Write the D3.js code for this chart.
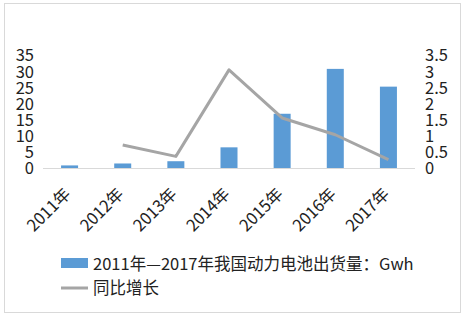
<!DOCTYPE html>
<html>
<head>
<meta charset="utf-8">
<script src="https://cdn.jsdelivr.net/npm/d3@7"></script>
<style>
  html, body { margin: 0; padding: 0; background: #fff; }
  svg { display: block; }
</style>
</head>
<body>
<div id="chart"></div>
<script>
const years = ['2011年', '2012年', '2013年', '2014年', '2015年', '2016年', '2017年'];
const shipments = [0.8, 1.4, 2.1, 6.4, 16.8, 30.7, 25.2];
const growth = [null, 0.71, 0.36, 3.04, 1.55, 1.03, 0.26];
const leftTicks = [0, 5, 10, 15, 20, 25, 30, 35];
const rightTicks = [0, 0.5, 1, 1.5, 2, 2.5, 3, 3.5];
const barLabel = '2011年—2017年我国动力电池出货量：Gwh';
const lineLabel = '同比增长';

const width = 464, height = 317;
const font = '"Noto Sans CJK SC", "Noto Sans", sans-serif';
const fs = 16.5;

const svg = d3.select('#chart').append('svg')
  .attr('width', width)
  .attr('height', height)
  .style('font-family', font);

// outer frame
svg.append('rect')
  .attr('x', 4.5).attr('y', 3.5)
  .attr('width', 456).attr('height', 309)
  .attr('fill', '#fff')
  .attr('stroke', '#d9d9d9');

const x = d3.scaleBand().domain(years).range([43, 415]).paddingInner(0.68).paddingOuter(0.34);
const yL = d3.scaleLinear().domain([0, 35]).range([168, 55]);
const yR = d3.scaleLinear().domain([0, 3.5]).range([168, 55]);

// left axis
const left = svg.append('g')
  .attr('transform', 'translate(34,0)')
  .call(d3.axisLeft(yL).tickValues(leftTicks).tickSize(0).tickPadding(0));
left.select('.domain').remove();
left.selectAll('text')
  .attr('font-size', fs).attr('fill', '#222').style('font-family', font)
  .attr('dy', '0.36em');

// right axis
const right = svg.append('g')
  .attr('transform', 'translate(425,0)')
  .call(d3.axisRight(yR).tickValues(rightTicks).tickSize(0).tickPadding(0).tickFormat(d3.format('~g')));
right.select('.domain').remove();
right.selectAll('text')
  .attr('font-size', fs).attr('fill', '#222').style('font-family', font)
  .attr('dy', '0.36em');

// bars
svg.append('g').selectAll('rect')
  .data(shipments)
  .join('rect')
  .attr('x', (d, i) => x(years[i]))
  .attr('y', d => yL(d))
  .attr('width', x.bandwidth())
  .attr('height', d => yL(0) - yL(d))
  .attr('fill', '#5b9bd5');

// category axis
const bottom = svg.append('g')
  .attr('transform', `translate(0,${yL(0)})`)
  .call(d3.axisBottom(x).tickSize(0).tickPadding(0));
bottom.select('.domain')
  .attr('stroke', '#d9d9d9')
  .attr('d', `M${x.range()[0]},0.5H${x.range()[1]}`);
bottom.selectAll('.tick text')
  .attr('font-size', fs).attr('fill', '#222').style('font-family', font)
  .attr('text-anchor', 'end')
  .attr('x', 0).attr('y', 0).attr('dy', 0)
  .attr('transform', 'translate(2,27) rotate(-45)');

// growth line
const line = d3.line()
  .defined(d => d != null)
  .x((d, i) => x(years[i]) + x.bandwidth() / 2)
  .y(d => yR(d));
svg.append('path')
  .datum(growth)
  .attr('d', line)
  .attr('fill', 'none')
  .attr('stroke', '#a5a5a5')
  .attr('stroke-width', 3)
  .attr('stroke-linejoin', 'round');

// legend
const legend = svg.append('g');
legend.append('rect')
  .attr('x', 61).attr('y', 258).attr('width', 27).attr('height', 10)
  .attr('fill', '#5b9bd5');
legend.append('text')
  .attr('x', 93).attr('y', 270)
  .attr('font-size', fs).attr('fill', '#222')
  .text(barLabel);
legend.append('line')
  .attr('x1', 61).attr('x2', 88).attr('y1', 288).attr('y2', 288)
  .attr('stroke', '#a5a5a5').attr('stroke-width', 3);
legend.append('text')
  .attr('x', 93).attr('y', 294)
  .attr('font-size', fs).attr('fill', '#222')
  .text(lineLabel);
</script>
</body>
</html>
